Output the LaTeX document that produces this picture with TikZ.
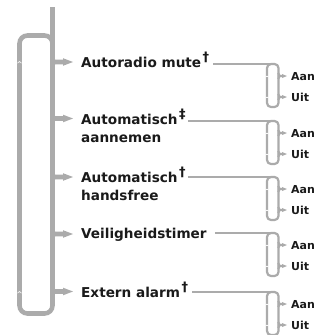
\documentclass[tikz,border=0pt]{standalone}
\usepackage{fontspec}
\setmainfont{DejaVu Sans}
\usetikzlibrary{calc}
\definecolor{Rail}{HTML}{ABABAB}
\definecolor{Ink}{HTML}{1A1A1A}
\newcommand{\drawmaintip}[1]{%
  \draw[Rail,line width=4.6pt]
    (52.5,{#1-6}) .. controls (52.5,#1) .. (58.5,#1) -- (63.5,#1)
    (52.5,{#1+6}) .. controls (52.5,#1) .. (58.5,#1);
  \fill[Rail] (63,{#1-3.8}) -- (73,#1) -- (63,{#1+3.8}) -- cycle;
}
\newcommand{\drawsubtip}[1]{%
  \draw[Rail,line width=2.2pt]
    (278.5,{#1-3}) .. controls (278.5,#1) .. (281.5,#1) -- (282.5,#1)
    (278.5,{#1+3}) .. controls (278.5,#1) .. (281.5,#1);
  \fill[Rail] (282,{#1-2}) -- (287,#1) -- (282,{#1+2}) -- cycle;
}
\newcommand{\drawnotch}[3]{%
  \draw[white,line width=0.6pt]
    ({#1-#3},{#2+#3*0.8}) -- (#1,#2) -- ({#1+#3},{#2+#3*0.8});
}
\newcommand{\notemark}[1]{\kern1.5pt{\fontsize{13}{13}\selectfont\raisebox{6pt}{#1}}}
\newcommand{\drawtoggle}[4]{%
  \coordinate (#2) at (267,#3);
  \draw[Rail,line width=2.2pt] ([xshift=#4]#1.east |- #2) -- ([xshift=3pt]#2);
  \draw[Rail,line width=2.2pt,rounded corners=4pt]
    (267,#3) rectangle (278.5,{#3+43});
  \drawsubtip{#3+12}
  \drawsubtip{#3+33}
  \drawnotch{267}{#3+12}{1.3}
  \drawnotch{267}{#3+33}{1.3}
  \node[statetext] (#2-aan) at (291,{#3+12.5}) {Aan};
  \node[statetext] (#2-uit) at (291,{#3+33}) {Uit};
}

\begin{document}
\begin{tikzpicture}[x=1pt,y=-1pt,
    itemtext/.style={anchor=base west,inner sep=0pt,text=Ink,align=left,
      font=\bfseries\fontsize{13.6}{18}\selectfont},
    statetext/.style={anchor=west,inner sep=0pt,text=Ink,
      font=\bfseries\fontsize{11}{12}\selectfont}]
  \useasboundingbox (0,0) rectangle (325,335);
  % main rail with return loop
  \draw[Rail,line width=4.6pt,rounded corners=8pt]
    (52.5,50) -- (52.5,35.5) -- (19.5,35.5) -- (19.5,313.5)
    -- (52.5,313.5) -- (52.5,296);
  \draw[Rail,line width=4.6pt] (52.5,7) -- (52.5,300);
  \drawnotch{19.5}{61.5}{2}
  \drawnotch{19.5}{291.5}{2}
  \drawmaintip{62}
  \drawmaintip{118.5}
  \drawmaintip{177}
  \drawmaintip{234}
  \drawmaintip{291.5}

  % menu items (base of a two-line node is its last line)
  \node[itemtext] (radio) at (81,67) {Autoradio mute\notemark{†}};
  \node[itemtext] (answer) at (81,142) {Automatisch\notemark{‡}\\aannemen};
  \node[itemtext] (hands) at (81,200) {Automatisch\notemark{†}\\handsfree};
  \node[itemtext] (timer) at (81,238.5) {Veiligheidstimer};
  \node[itemtext] (alarm) at (81,297) {Extern alarm\notemark{†}};

  % on/off choices
  \drawtoggle{radio}{radiosw}{64}{4pt}
  \drawtoggle{answer}{answersw}{121}{2pt}
  \drawtoggle{hands}{handssw}{177}{2pt}
  \drawtoggle{timer}{timersw}{233}{8pt}
  \drawtoggle{alarm}{alarmsw}{292}{4pt}
\end{tikzpicture}
\end{document}
